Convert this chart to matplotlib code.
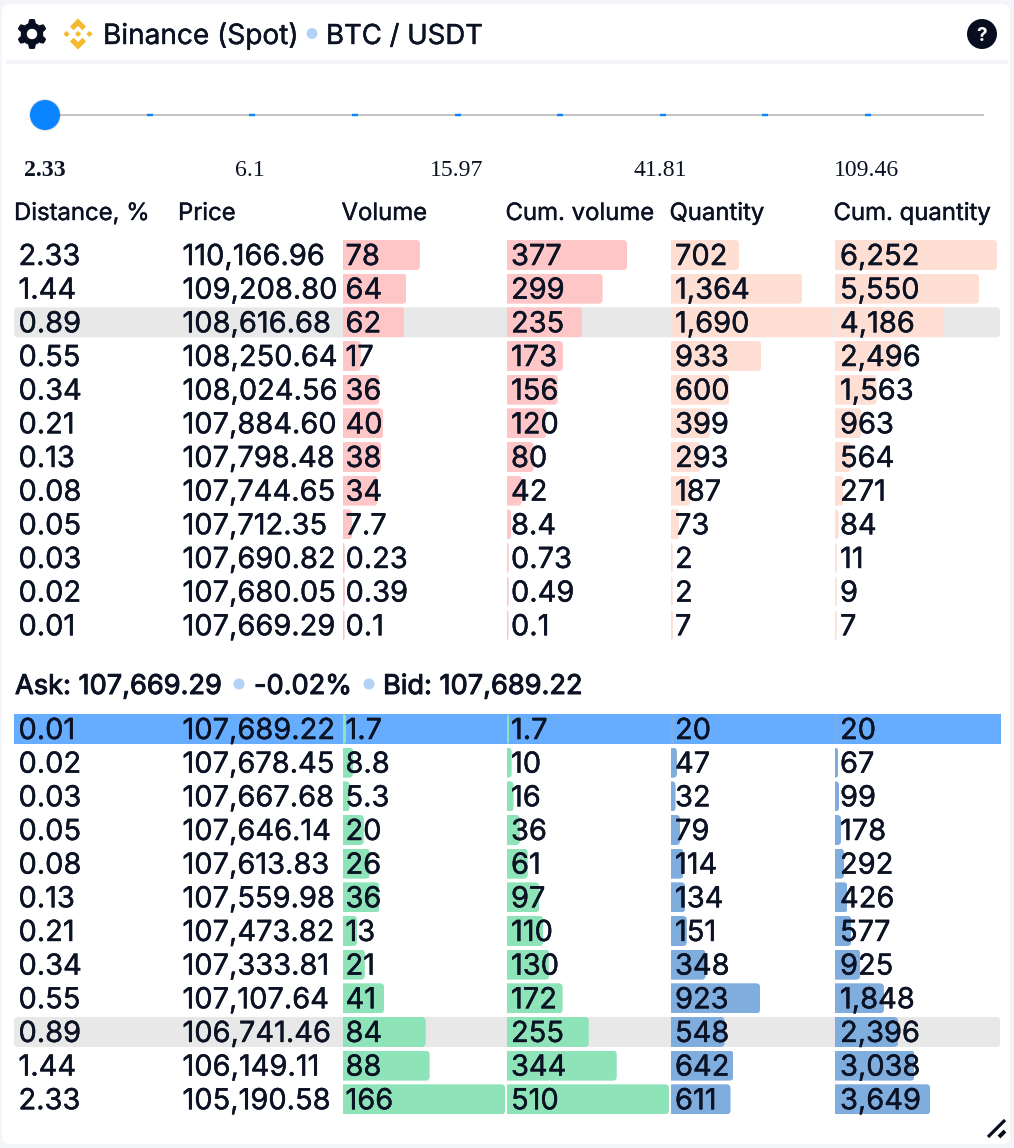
import numpy as np
import matplotlib
matplotlib.use("Agg")
import matplotlib.pyplot as plt
import matplotlib.patheffects as pe
from matplotlib.patches import Circle, FancyBboxPatch, Polygon, PathPatch
from matplotlib.path import Path

# ---- data ----
slider_labels = ["2.33", "6.1", "15.97", "41.81", "109.46"]
columns = ["Distance, %", "Price", "Volume", "Cum. volume", "Quantity", "Cum. quantity"]

ask_distance = ["2.33", "1.44", "0.89", "0.55", "0.34", "0.21", "0.13", "0.08", "0.05", "0.03", "0.02", "0.01"]
ask_price = [110166.96, 109208.80, 108616.68, 108250.64, 108024.56, 107884.60,
             107798.48, 107744.65, 107712.35, 107690.82, 107680.05, 107669.29]
ask_volume = [78, 64, 62, 17, 36, 40, 38, 34, 7.7, 0.23, 0.39, 0.1]
ask_cum_volume = [377, 299, 235, 173, 156, 120, 80, 42, 8.4, 0.73, 0.49, 0.1]
ask_quantity = [702, 1364, 1690, 933, 600, 399, 293, 187, 73, 2, 2, 7]
ask_cum_quantity = [6252, 5550, 4186, 2496, 1563, 963, 564, 271, 84, 11, 9, 7]

bid_distance = ["0.01", "0.02", "0.03", "0.05", "0.08", "0.13", "0.21", "0.34", "0.55", "0.89", "1.44", "2.33"]
bid_price = [107689.22, 107678.45, 107667.68, 107646.14, 107613.83, 107559.98,
             107473.82, 107333.81, 107107.64, 106741.46, 106149.11, 105190.58]
bid_volume = [1.7, 8.8, 5.3, 20, 26, 36, 13, 21, 41, 84, 88, 166]
bid_cum_volume = [1.7, 10, 16, 36, 61, 97, 110, 130, 172, 255, 344, 510]
bid_quantity = [20, 47, 32, 79, 114, 134, 151, 348, 923, 548, 642, 611]
bid_cum_quantity = [20, 67, 99, 178, 292, 426, 577, 925, 1848, 2396, 3038, 3649]

volume_max = 166
cum_volume_max = 510
quantity_max = 1690
cum_quantity_max = 6252

# ---- style ----
W, H = 1014, 1148
INK = "#0a1224"
ICON = "#060e20"
SANS = ["Inter", "DejaVu Sans"]
SERIF = ["Liberation Serif", "DejaVu Serif"]
RED, PEACH, GREEN, BLUE = "#ffc6c8", "#ffdfd4", "#8fe3b8", "#7fadde"
DOT = "#b1d2f5"
PX = 100 / 72  # pixels per point at dpi 100
THICK = [pe.withStroke(linewidth=0.3, foreground=INK)]
MEDIUM = [pe.withStroke(linewidth=0.7, foreground=INK)]


def fs(px):
    return px / PX


fig = plt.figure(figsize=(W / 100, H / 100), dpi=100, facecolor="#f3f5f8")


def px_axes(z):
    a = fig.add_axes([0, 0, 1, 1], zorder=z)
    a.set_xlim(0, W)
    a.set_ylim(H, 0)
    a.axis("off")
    a.patch.set_alpha(0)
    return a


bg = px_axes(0)
top = px_axes(5)

# card
bg.add_patch(FancyBboxPatch((2 + 8, 4 + 8), 1008 - 16, 1140 - 16, boxstyle="round,pad=8,rounding_size=8",
                            fc="white", ec="none"))
bg.add_patch(plt.Rectangle((6, 60), 1002, 4, fc="#f3f5f8", ec="none"))

# gear icon
cx, cy = 32, 34
angs = np.linspace(0, 2 * np.pi, 361)
rad = 13.1 + 1.9 * np.clip(np.cos(6 * (angs - np.pi / 2)) * 2.0, -1, 1)
outer = np.c_[cx + rad * np.cos(angs), cy + rad * np.sin(angs)]
inner = np.c_[cx + 5.2 * np.cos(-angs), cy + 5.2 * np.sin(-angs)]
gear_path = Path(np.r_[outer, inner],
                 np.r_[[Path.MOVETO], [Path.LINETO] * 360, [Path.MOVETO], [Path.LINETO] * 360])
top.add_patch(PathPatch(gear_path, fc=ICON, ec="none"))

# exchange logo
lx, ly, ls = 78, 34, 15.5
chev = np.array([(0, 1), (.52, .48), (.28, .24), (0, .52), (-.28, .24), (-.52, .48)])
diam = np.array([(0, .2), (.2, 0), (0, -.2), (-.2, 0)])
for shape, ox in ((chev, 0), (chev * [1, -1], 0), (diam, 0), (diam, -.74), (diam, .74)):
    top.add_patch(Polygon(np.c_[lx + (shape[:, 0] + ox) * ls, ly - shape[:, 1] * ls], fc="#f3ba2f", ec="none"))

# title
top.text(103, 44, "Binance (Spot)", family=SANS, fontsize=fs(28), color=INK, path_effects=THICK)
top.add_patch(Circle((312, 33.5), 5.5, fc=DOT, ec="none"))
top.text(326, 44, "BTC / USDT", family=SANS, fontsize=fs(27.5), color=INK, path_effects=THICK)

# help icon
top.add_patch(Circle((982, 34), 15, fc=ICON, ec="none"))
top.text(982, 34, "?", family=SANS, fontsize=fs(19), fontweight="bold", color="white", ha="center", va="center_baseline")

# slider
bg.plot([45, 984], [115, 115], color="#c2c2c2", lw=2 / PX, solid_capstyle="butt")
slider_ticks = [150, 252, 355, 458, 560, 663, 765, 868]
for t in slider_ticks:
    bg.plot([t - 3, t + 3], [115, 115], color="#0a84ff", lw=2.4 / PX, solid_capstyle="butt")
top.add_patch(Circle((45, 115), 16, fc="#00000018", ec="none"))
top.add_patch(Circle((45, 115), 15, fc="#0a84ff", ec="none"))
slider_x = [45, 250, 456.7, 660.5, 866.5]
for i, (x, s) in enumerate(zip(slider_x, slider_labels)):
    top.text(x, 176, s, family=SERIF, fontsize=fs(23.7), color=INK, ha="center",
             fontweight="bold" if i == 0 else "normal")

# headers
col_head_x = [14, 178, 341.5, 505.5, 669.5, 833.5]
for x, s in zip(col_head_x, columns):
    top.text(x, 220, s, family=SANS, fontsize=fs(23.9), color=INK, path_effects=THICK)

# mid line
top.text(15, 694, "Ask: 107,669.29", family=SANS, fontsize=fs(27.2), color=INK, path_effects=MEDIUM)
top.add_patch(Circle((239, 684), 5.5, fc=DOT, ec="none"))
top.text(254, 694, "-0.02%", family=SANS, fontsize=fs(27.2), color=INK, path_effects=MEDIUM)
top.add_patch(Circle((369, 684), 5.5, fc=DOT, ec="none"))
top.text(383, 694, "Bid: 107,689.22", family=SANS, fontsize=fs(27.2), color=INK, path_effects=MEDIUM)

# resize handle
top.plot([988, 1005], [1137, 1120], color=ICON, lw=3.2 / PX, solid_capstyle="butt")
top.plot([999, 1005], [1137, 1131], color=ICON, lw=4 / PX, solid_capstyle="butt")

# ---- tables ----
ROW = 33.66
BAR_PX = 30
SCALE_PX = 160.5   # pixels spanned by a column's largest value
AXIS_PX = 170      # room for the axes, a bit wider than the scale
MIN_PX = 1.5       # every bar starts with this stub
bar_left = [343, 507, 671, 835]
text_x = [18.5, 182.5, 345.5, 511, 675, 840]


def fmt(v):
    return f"{v:,}"


def round_clip(value, row, h, rx, ry):
    y0, y1 = row - h / 2, row + h / 2
    rx = min(rx, value)
    verts = [(0, y0), (value - rx, y0), (value, y0), (value, y0 + ry), (value, y1 - ry),
             (value, y1), (value - rx, y1), (0, y1), (0, y0)]
    codes = [Path.MOVETO, Path.LINETO, Path.CURVE3, Path.CURVE3, Path.LINETO,
             Path.CURVE3, Path.CURVE3, Path.LINETO, Path.CLOSEPOLY]
    return Path(verts, codes)


def bar_column(left, y_top, values, vmax, color, z=2):
    ax = fig.add_axes([left / W, 1 - (y_top + 12 * ROW) / H, AXIS_PX / W, 12 * ROW / H], zorder=z)
    per_px = vmax / SCALE_PX
    ax.set_xlim(0, AXIS_PX * per_px)
    ax.set_ylim(11.5, -0.5)
    ax.axis("off")
    ax.patch.set_alpha(0)
    shown = np.asarray(values) + MIN_PX * per_px
    rows = np.arange(12)
    h = BAR_PX / ROW
    bars = ax.barh(rows, shown, height=h, color=color, linewidth=0)
    rx, ry = 4 * per_px, 4 / ROW
    for b, v, r in zip(bars, shown, rows):
        b.set_clip_path(round_clip(v, r, h, rx, ry), ax.transData)
    return ax


def table(y_top, dist, price, vol, cvol, qty, cqty, c1, c2):
    for left, vals, vmax, c in zip(bar_left, (vol, cvol, qty, cqty),
                                   (volume_max, cum_volume_max, quantity_max, cum_quantity_max),
                                   (c1, c1, c2, c2)):
        bar_column(left, y_top, vals, vmax, c)
    cols = [dist, [f"{p:,.2f}" for p in price], [fmt(v) for v in vol], [fmt(v) for v in cvol],
            [fmt(v) for v in qty], [fmt(v) for v in cqty]]
    for x, col in zip(text_x, cols):
        for i, s in enumerate(col):
            top.text(x, y_top + (i + .5) * ROW + 10, s, family=SANS, fontsize=fs(29), color=INK,
                     path_effects=THICK)


ASK_TOP, BID_TOP = 238.2, 712.2
for y in (ASK_TOP + 2.5 * ROW, BID_TOP + 9.5 * ROW):
    bg.add_patch(FancyBboxPatch((18, y - 11), 978, 22, boxstyle="round,pad=4,rounding_size=4", fc="#e8e8e8", ec="none"))
bg.add_patch(plt.Rectangle((14, BID_TOP + 2), 987, 30, fc="#66adff", ec="none"))

table(ASK_TOP, ask_distance, ask_price, ask_volume, ask_cum_volume, ask_quantity, ask_cum_quantity, RED, PEACH)
table(BID_TOP, bid_distance, bid_price, bid_volume, bid_cum_volume, bid_quantity, bid_cum_quantity, GREEN, BLUE)

fig.savefig("out.png", dpi=100, facecolor=fig.get_facecolor())
